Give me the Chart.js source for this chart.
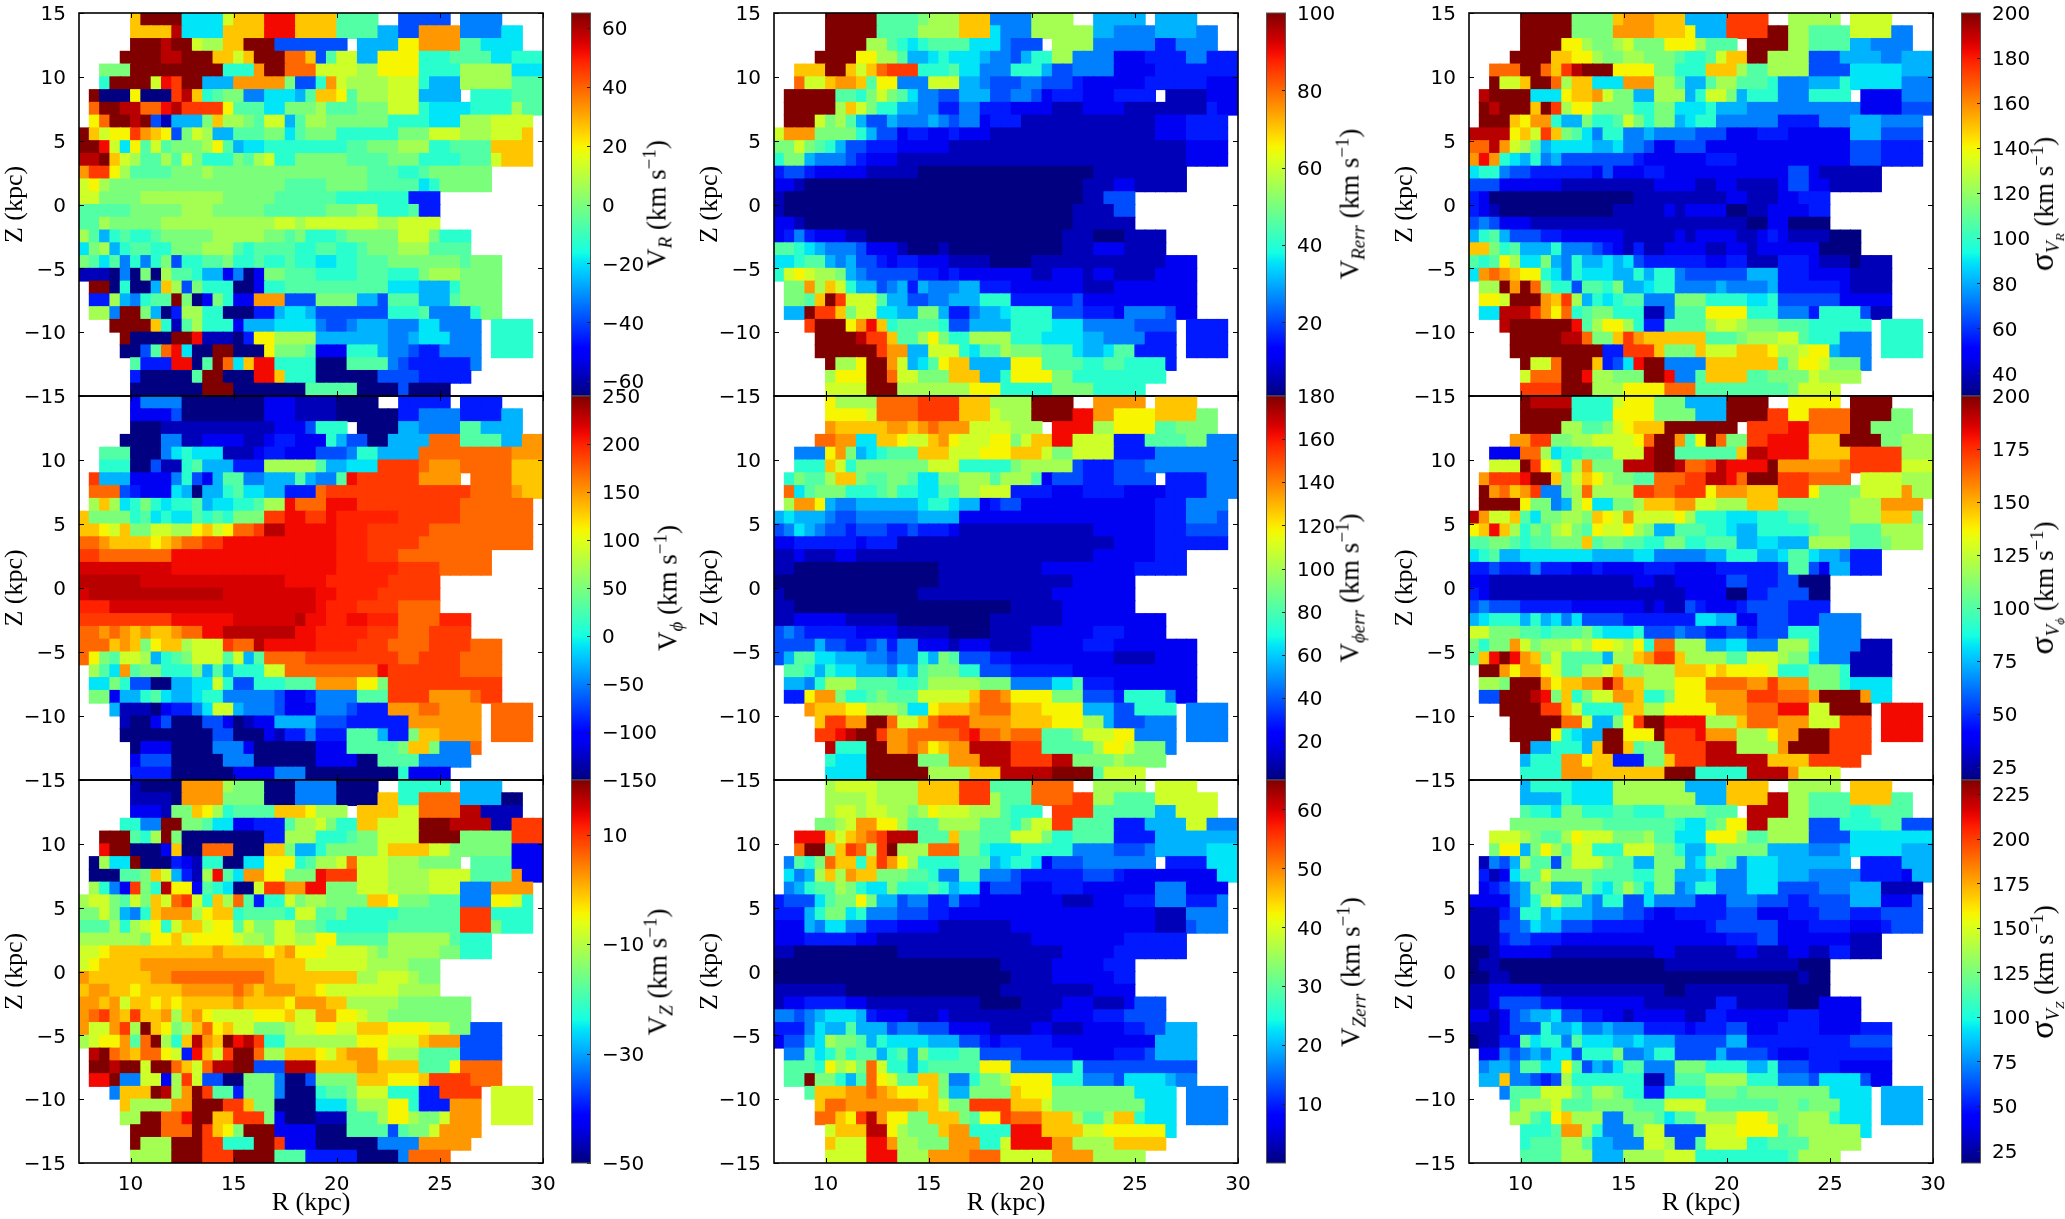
<!DOCTYPE html>
<html>
<head>
<meta charset="utf-8">
<title>Velocity maps</title>
<script src="https://cdn.jsdelivr.net/npm/chart.js@4"></script>
<style>
  html, body { margin: 0; padding: 0; background: #fff; }
  #page { position: relative; width: 2065px; height: 1219px; overflow: hidden; }
  #page canvas { position: absolute; }
  .cbTitle { position: absolute; transform: translate(-50%, -50%) rotate(-90deg); white-space: nowrap;
    font-family: "Liberation Serif", serif; font-size: 27px; color: #000; }
  .cbTitle sub { font-size: 70%; font-style: italic; line-height: 0; }
  .cbTitle sup { font-size: 70%; line-height: 0; }
  .cbTitle .sig { font-size: 34px; }
</style>
</head>
<body>
<div id="page"></div>
<script>
// one string per row from Z=15 down to Z=-15, columns are 0.5 kpc wide from R=7.5
// letters a..u are colour bar levels (a = bottom, u = top), R and S are the half steps r-s and s-t,
// "." is an empty bin, a number repeats the next letter
const vrRows = [
  "5.o4u4hm3o3s4o4j2.5e.4f",
  "5.4ot4h4o3s4o4j2g2e4p4f2h",
  "5.3ut2um2l2o3u7e.4g2n4p2j4h",
  "4.4u2t3u2omo3u2qoej2m2g4n3i4j2h3i",
  "2.3k9u3ip2u3q4m2l4n4i5l3h",
  "2.i4umsr2u3g5pk2eipm4l3mi3g5l3j",
  ".u3an3artoij2k2f3hgj2onj3l3m4g.4i3j",
  ".q2u2t2qst4rn3j2h3kl3j3k3mi4h4il2j",
  ".nq2utueb3gko2lkj2mgj2l6k4i3h3l4m",
  "uom2nrponekml2g3j2khj3k6i3k3m3l3mo",
  "2usmhnjmj3klnjg2h2i6i2j3k3l2i4j4o",
  "2tuoml2jljmk3ikjlm2i5k4j3k4i3jm3o",
  "p2rnl4j3kl4k2k5k4k3j2ij3k3k",
  "mnl6k11k4j4k5jhi5k",
  "2m4k8l5k6j7i3d",
  "5j5k3l5k6j3k2l3ij2d",
  "2jl5k5l6l2ml7m2l4m",
  "ljgij2ij5k5l2kjk3ij4kk3mk3i",
  "hklgi2j2i3k3lji4j2i2j2ij3k3l4j",
  "kjhjfifike2i2jk2ij2ij2i2h2i3j7kj3k",
  "3bafakal2ji2gcfac2k3j4i3j3ik3l4k",
  ".2uai2agolek3i2ac2i3j7j3h3gi4k",
  ".2dlgfi2jukacki2c3p3e4k2ge3j3gj4k",
  ".2lf2ukgad2l2i3a2dg2hg7e3ij4fi2k",
  "3.4uoibjl3ic3g4hf2ef3g3f2h4f.4i",
  "4.u4a2us3bad2n4l3gg3g2fg3h3f.4i",
  "4.2aejqsh2a2u3an3kj3c3ig2fe2d4f.4i",
  "5.j3d2sajuqho2s4i3a4jfe3d3df",
  "5.d5aj2u3a2so3i6a4e5d",
  "5.7a3u7a5j4ae4a"
];
const vphiRows = [
  "5.c4f8a3c4b4a2.5d.4d",
  "5.4ce8a3c4b6a2d4f4d2g",
  "5.3a3b8b3ce3i.4a2g4f2j4g",
  "4.4a2f2b2c2c2bc2d3cig2e2a4g3q4j2g3p",
  "2.3j3afhi3h3bc2d3c3ef2i4g4q5q3p",
  "2.3i2ae2bij3g3d5lj2g3h4rq3p5q3o",
  ".r3g4cfiecg2j2f3gjg2fjs3r3r4p.4q3o",
  ".3qedc2chgaggij2h2g3dq6r4r4r4qp2o",
  ".lolhikih2ijg2h2ij2lsq2q3s3r7r7q",
  "o4kijhi2hjiji3k2r2s2rs6R3r3r7q",
  "2onmo2kmm2lnomn2qr2ts4s3R3r3r3q7q",
  "2qp4onop2q2r4s7s3R5r4q7q",
  "2r2q5q5s4s7s3R3r3q6q",
  "9S9s7s6R4r5q",
  "6t5S9S4s6R5r",
  "S9t4t6S3S2s4R6r",
  "3R7S8S5Ss3R4r4q",
  "6r2rr6s6St2s2R2s3R4q3R",
  "2qpqpop2op2qss3tt3t2s5R3r3q4r",
  "q2qopokn2ol3mr2qt3s2s4R3r3qq3rr3q",
  "qnkj2mlgijkm2mjmgj4qr4r3rr2q4r4q",
  ".ljhpj2k2iikgjg2ii2m3q2q4qs3r4r4q",
  ".2hki2e2a2g2hmi2e3i3j4p2nk3r3r5r",
  ".2kc2gijh2gh2i5fe2cd4f3j3rr4pq2r",
  "3.g3bac2dfh2mg3fe3cf2fe3d3p2q4p.4q",
  "4.b2ace3a2ecab2c4g3e4d2dp6p.4q",
  "4.9a2e3acb2df3d3jg2dk2o4p.4q",
  "5.a3c4a3fc6a3c5jk2ok3fq",
  "5.c3e5a3f6a4c2a4j5f",
  "5.4d6a4c3f9ai4c"
];
const vzRows = [
  "5.b4a4pl3k3a4f4a2.5i.4g",
  "5.4ba4p4k3a4f4a2o2i4q4g2a",
  "5.3cb2konlij3j3on3l.4o2m4q2t4b",
  "4.2i2f2u2kj2h2c3dj2lmk2i2o4m3u4t2b3r",
  "2.3ujiluk8a2d3l3ij2k4m4u5k3r",
  "2.s2u3aco2a3q3a2ok2gik4km3oo2m6k3c",
  ".al2hu3adcb2i2a2h3nij2lmq3m3l4k.4j3c",
  ".3a2jkomgdblsjh2p2n3ks3r3m4l4m4jp2c",
  ".lifcrkit2ncjih2am2r2p2s3k3m4l3m3f4p",
  "l2mkjmkomqrmiolqjd2imk2lk3k2on3k3j3f2nmi",
  "2kmkgfio3pln2oi4ji2m2jk2i3i6j3r4i",
  "3jlilmnim2om2njm2k2m2kj2i3ii7j3rk3i",
  "l5lk2nom4nm2lk2m2l2n3j2jl5lj3i",
  "2mn2o4o4op2o2onop3n4mlk5l2k3i",
  "mn4o6p7p3o3m3m4l3k",
  "po5o2p6q2qqp4o2o2o2l3ml2k",
  "o2p2ono3o5pqpo3p2on2m3m2m4l",
  "2popm2onono4op2o2onp2p2o2l3l4k3k",
  "pqrpor2oplopn2m2m3no2m2p2nm2l4k4k",
  "p2mprluonkloqno2m3kl2m2n2m3o4n2m2k3e",
  "lm2npjquliotpoustr2i3l4l3n3mo3p4e",
  ".tuqpoqqnmdsomr2uq2l3onmo3pn3l4j4e",
  ".2ut2um2uqomq2t2u3e3t3oo2po3o3jn4q",
  ".2su2f2mclrm2e2a3kf2ae4k3o3no4rq2q",
  "3.f3outlpur2jd3kf3ai2jk3m3i2d4r.4m",
  "4.o4l2p3u2ro2k4a3hj3l2ni3d3p.4m",
  "4.2l2u2qs2u2o3rkc3a3b3jl2nl2km3p.4m",
  "5.3u3quronk3u4c3a4jej2km4p",
  "5.u3l3u2r3i2ur3c6a4f5p",
  "5.4l3u3r4u3j5d4af4q"
];
const vrErrRows = [
  "5.5u4jk3l3o4f4l2.5g.4g",
  "5.5u4j4l3oh3f4l2l2g4f4g2f",
  "5.4u2ljihij3j3hf3e.4l2f4f2d4f",
  "4.4u2n2lj2ghih2hg2feg2i2l4f3c4d2f3d",
  "2.3o2uomoq3r3ij2h3f3ig2e4f4c5d3d",
  "2.q2mo2poj2n3f3m2gf2ee2f3ed3c3cd5d3c",
  ".5u2jikmkjh2f2e3g2e2fec3d3c4d.4b3c",
  ".5ulomk2i2g2f2d2f3dc3c3b4c3bb4bd2c",
  ".3umkljg2eg3fgfe2fcd2d6b4b3b3c4d",
  "m3p4kig2ec2d2cd3c4b6b6b3c4d",
  "2kmkjig2e3d3c2c3b5b12b3b4c",
  "i2kgf2fed3c4bb20b3bc3c",
  "d2ed4cc3b2b17a6b3b",
  "2cb6a21a3b2c2b3b",
  "ba23a5a2b3e",
  "b26a2a3bb2e",
  "2cb26a6b",
  "cdfdc2c2b11a8a3b3a4b",
  "2jihg3fe3cb3ab8a3a3b3c4b",
  "2hi2jgfg2edc2d2cc4b4a2b3b6b2b3c",
  "imnm2lkgfe4eddcd2cc4c2b3cb2c4b4c",
  ".2kplomi2gefgdg2ff2g3d2c5c3b8c",
  ".2kjour3mj2g2e2f3g3i6de6cc4c",
  ".2gu2rok2m2h2g2kg2df2gh4i3e3dc4fe2c",
  "3.r3unpsoi4ji2e4g3ii3h3f2f4e.4d",
  "4.4ut2ro2jlnk2i4l3ih3h2gf3f3d.4d",
  "4.6ur2p2g3mih2jl3k3jh2gh2jd3d.4d",
  "5.u2ln2upmghjn2o4g3n4j2i2ji3id",
  "5.l3n2uq2m3k3o2gi4n2k9i",
  "5.4m3u7l3n5i4k5i"
];
const vphiErrRows = [
  "5.n4l4qr3r3o4l4u2.5p.4o",
  "5.4nm4q4r3om3l4u2s2p4n4o2k",
  "5.p2o3o2popq3p3mm3l.4s2l4n2j4k",
  "4.2q2p2h2on2mopn2mm2nkm2o2s4m3d4j2k3f",
  "2.3fnpkghi3j3o3m3n3om2k4m4d5f3f",
  "2.3iomi7k3m5ik2l3le3de2ef5f3f",
  ".ik2jl2ok2j2kj2h2k3lj3ljc3e3d4e.4d3f",
  ".qhj3k3ijk2i2h2j2l3m4d3c3dd4c4df2f",
  ".l2png2f2g2g2gh2ih2gcd2e6c4c3c3d4f",
  "gh3gf2ef2f3f4g10c9c3d3fe",
  "efhgf2ede2e2ded2dc13b3c3c3d4e",
  "2c2d4dc2dd2b19b4c3dd3d",
  "2bc3b2c4b19b2c4c3d",
  "2b4a10a10b5c4c5d",
  "16a9b4b6c",
  "b13a9b4b2c6c",
  "2b10a11a5b7c",
  "bb3c2c2b3b9a7b6c4c",
  "efe3d2d4cb4b4a2b2b6c3d4c",
  "4eg2e2defd2f3cb3c4b5c3d5c3c",
  "eg2j2h3g2fe2figkj3e2d2c5cc2c4b4c",
  ".2jigi2h2ggfhgj3k2i3e2d4d4c3cc4c",
  ".2gfi3l4j2ij2l3l3k4f2hj3d3c5c",
  ".2dn2pk2ijkj2j5mo2qp4n3k3ed4if2c",
  "3.p3o2n2llk2hn3op3qo2o4n3g2e4i.4f",
  "4.o2r2p2uq2moqr2r4p3oo3n2lg3e3f.4f",
  "4.2rst2ur2p2q3qrs2qp3q3jk2mm2n4f.4f",
  "5.t3i2u2pqpno2p4t3r4jjl2nm3kf",
  "5.i3h5u3k3p3t4r2t4kl4k",
  "5.4h6u4l3o5t4uj4m"
];
const vzErrRows = [
  "5.l4m4lo3o3r4j4q2.5l.4m",
  "5.4lm4l4o3rl3j4q2r2l4j4m2m",
  "5.l2ml2m2lkln3m3lj3i.4r2j4j2g4m",
  "4.2klm2p2nl3j4lj2jik2m2r4j3d4g2m3f",
  "2.3somopqr3t3jo2k3j3mk2i4j4d5g3g",
  "2.q2ukorqlru3l3q2ki2hh5i4f3ef5g3h",
  ".fjikq2oiorpnl2i2i3jgh2ihc3e3f4f.4d3h",
  ".hfglolp2o3k2ji2f2j3fe3d3d3ed4c4cc2h",
  ".fgi2jlki2hk3ijig2hce2e3c3d4c3c3f4c",
  "d3ehjkknk2ge2f2df2d2c6c3b3c3d3f3df",
  "3dgi2khi3f3e2d14c6c3b4f",
  "3cgf2h2f3d4c7b10c4c3be3f",
  "3c4dd2c13b2b8cc3d3d",
  "2b10a8b4b4b5c4d3d",
  "2a20a5b5c3d",
  "23a4b5cc2d",
  "3b4b15a7b2b4c",
  "b2c4d2c3b8b4a4b3c3bc3e",
  "2fefg3hgdc2c2bbc4b3b3b3cc3d4e",
  "3dfhggj3ge2f3ec2cc2b2b2c3b4c2d2e3g",
  "c2eghl2kjgi4h3g2edc5d6c4c4g",
  ".2fjhiki2jgijgk3i2j4ed4dc3c3de4g",
  ".3jinlmkqm2igi2j3j3n4f2fi3e3e5e",
  ".2ju2kigjqnm2j2ok2fi2kl4n3i3fe4hg2f",
  "3.j3o2pqpo3nok2g4ko2nn3k3k2k4h.4f",
  "4.o2q2p5p2om2k4r3om3k2k4k3h.4f",
  "4.2qonrtp2n2k3okj2nr3q3ol2jl2oi3h.4f",
  "5.m3o2tnl3ko2p4i3s4o2m6nh",
  "5.o3m2sp2l3k3p2im4s2p4l5o",
  "5.4m3s3l4p3q5m4p5l"
];
const sigVrRows = [
  "5.5u4ko3p3o4g4r2.5l.4m",
  "5.5u4k4p3on3g4r2u2l4j4m2f",
  "5.4u2nl2klm3k3nl3j.4u2l4j2g4f",
  "4.4u2o2nl2k2l3kj2ijm2o2u4l3e4g2f3g",
  "2.3q2uqort3u4n2k3i3ol2j4l4e5h3g",
  "2.u2mo2uql2o3h3p2lj2gj2l3ji3fg2gi5h3f",
  ".t4u3hn2opm2k2g3lgi2mkg3i3f4i.4c3f",
  ".ut3uourl2n4k2i2k3hi3g3f3f5f4c3e",
  ".3uon2pi2gkiijmki2kgh2i6f4d3f3g4f",
  "4tnomrokjhf2i2fg4f3e3c3d6c3g4e",
  "2qtpmljg3hh2gh2fe2c3e5c9c3e4d",
  "pspihgifg2e2e3ed2c4cd2d11c3e4d",
  "h2if2e6dce3c2d4c4c4c2ec6b",
  "3e6c4b5b4c2b2c4bc2e2c5b",
  "dc14a9b2c3b2c3d",
  "dcb11a5bcb2c2c2a2b3cc2d",
  "efe3cb3b6b2b3b2b4b2a2c4a",
  "gijg3e2d3c3c3b2bcb4c2bcdcb3b3a",
  "2okijg2gi3fedcbd2b4c2b2cb2cc3c4a",
  "jijnl2hkgfi2ghghed5d2c2d3b3dc3ba3b",
  "hpqponnihfih2h2gig2if2e2e2e3gd2d4c4b",
  ".2lupuqk2ie2jik2gh2i3ffg4fg6dc4b",
  ".2nm3uporlgihi2j3f3k4i2hi3e3ec4c",
  ".2h3trpnqij2k3i2bf3j4n3i3fd4ie2b",
  "3.t6usjl2nli2d4jl2ml3k3j2i4i.4i",
  "4.5u2tq2korp2o4o3jk3l2mj3i3f.4i",
  "4.9u2d3ro3ko3m3on2lm2ng3f.4i",
  "5.u2mq3uodehs2u4f7ojl2nm3kf",
  "5.m3q2us2l3k2us2fj4o2j4km4l",
  "5.4r3u3l4n3q9jk4m"
];
const sigVphiRows = [
  "5.u4t4im3n3k4g4u2.5n.4u",
  "5.5u4i4n4k3g4u2r2n4q4u2k",
  "5.4u2l2jkmn3o7u.4r2s4q2u4k",
  "4.2p2r2k2lm2mmnq2upjnuq2k2r4s3o4u2k3l",
  "2.3c2qlh2i3j3mt2u3j3jo2t4s4o5r3l",
  "2.3murnmilp3k3t2ut2qrt4su3p3pq5r3m",
  ".p3rs2uokmonl2k2j3qrr2tsq3u3r4q.4m3l",
  ".upqopr2fklq4l2r2q3rn3p3o3rn4k4mp2l",
  ".4un2kfgln2h2klo2o2p2m3l3o7k3l4p",
  "tp2mojh2k2lkonmp4mnl3i3h3i2j4k3l3ok",
  "nosolikjlmkjn2mnlk2g3j2ih2g5ij3k3j4l",
  "2j2kji2j2kkoj2k2j2i2k2i3j2g2h3g4l3jk3l",
  "hij2g4h2hhg3g2h5f2g3i2gh2jh2gf3d",
  "2de3df3d2cdc3c3d2c2c3d3de2jec2g3d",
  "2c10b4b2c2b3c2c2e3d2e3a",
  "dc6b6b7b4c2a2d3ee2a",
  "ef2ee5d7cbc2bedc2cd4e4d",
  "ghi2igighfh4ed6d2h2g2c3e3d4f",
  "2mk2kjji3jkih2hi3ef2e2d2ed3e3i4f",
  "ki2kpmk2llml2nmlni2q3l2g2h3f3li3ff3b",
  "josuspokmj3jg2lop2ro4l2j3ml2kh3f4b",
  ".2upn2pnm2j2lmo2k3l3ono4nm3i3ki4b",
  ".2lk3upn2o2ptq2o3l3n4q2pr3p3ki4h",
  ".2e3utskoik2m2po2ik3n4p3r3qp4up2h",
  "3.4u2rom4i2o2l5n2pp3q3s2m4u.4s",
  "4.5u2qm2gknr2u4s3lo3q3p3m3r.4s",
  "4.4unih2g2u3nu3rs3p3ln2p3u4r.4s",
  "5.u2g3igo2uoj2k4r3t4lp4u4r",
  "5.g3i2pn2o3d2ko3r6t4o5r",
  "5.4i3p7o3u5i4tp4m"
];
const sigVzRows = [
  "5.g4i4hl3l3l4g4o2.5l.4o",
  "5.4gi4h4l4l3g4o2t2l4j4o2j",
  "5.j2ih2ki2i2j3i3kk3j.4t2l4j2i4j",
  "4.4k5k3j4ji2hjk2n2t4l3e4i2j3e",
  "2.3mlk2jln3m3kl2j3h3nl2j4l4e5h3h",
  "2.k2ngknlj2m3i3m2ki2gi5kg3g3fg5h3g",
  ".bfegl2jek3mk2j2g3kgh2kjf3h3g4g.4d3g",
  ".dbch2jm2k2k4j2i2k3gh3f3h3g5f4dc2g",
  ".cdefg2k3gkihjljh2kfg2i3f3he3e3f3g4b",
  "4cfgilm2jgf2i2eh4f3d3f3e2de3e3g3ce",
  "3bde2igh3g3f2ed2c3d2d3e3c3d3e3d4e",
  "3b2efh2g3e4dd6cd6e3c4d3cd3e",
  "3bd2e3d4cc4c7c3d2e3c3cc3b",
  "2ab5c5b5b2c6b2c3b2c2b2d3b",
  "a2ba15a4b9b3a",
  "2a2b19a6a3ab2a",
  "2bc4c5b7b2a10b4a",
  "2bc4e2d3c5c5b2b2d5b3a4c",
  "2cbcef2gh2e2d2cbc4c2b2d2cc3c3d4c",
  "3bc3ei2gh2fg2ffd2ddc2dd2e3c4d4c3d",
  "a2b2djh2ifjh2h2ghg2ge2e2e2g3d3d4d4e",
  ".2cfefgf2hei2ik2fg2i4eg4ed3c4d4d",
  ".f2gf2j2hnjegfh2j3f3k3ii2gi3e3dc4c",
  ".2go2fedel2i4ii2bf2jj4l3i3fe4he2c",
  "3.f3j2mmkj2lk2i2d4ik2kj3k3k2k4h.4g",
  "4.j2llm3j4k3j4m7j2kj3k3h.4g",
  "4.2ljino3l2f2kkjh2jl3l3nl2k2lli3h.4g",
  "5.i2ij2pli3fk2m4e3m4njk6lh",
  "5.i3j2lj2g3f2ml2ej4m2i4j5l",
  "5.4j3l3g4l3m9ij4l"
];

// colour bar limits and ticks
const vrRange = [-65, 65];
const vrTicks = [-60, -40, -20, 0, 20, 40, 60];
const vphiRange = [-150, 250];
const vphiTicks = [-150, -100, -50, 0, 50, 100, 150, 200, 250];
const vzRange = [-50, 20];
const vzTicks = [-50, -30, -10, 10];
const vrErrRange = [1, 100];
const vrErrTicks = [20, 40, 60, 80, 100];
const vphiErrRange = [2, 180];
const vphiErrTicks = [20, 40, 60, 80, 100, 120, 140, 160, 180];
const vzErrRange = [0, 65];
const vzErrTicks = [10, 20, 30, 40, 50, 60];
const sigVrRange = [30, 200];
const sigVrTicks = [40, 60, 80, 100, 120, 140, 160, 180, 200];
const sigVphiRange = [19, 200];
const sigVphiTicks = [25, 50, 75, 100, 125, 150, 175, 200];
const sigVzRange = [18, 233];
const sigVzTicks = [25, 50, 75, 100, 125, 150, 175, 200, 225];

const rTicks = [10, 15, 20, 25, 30];
const zTicks = [-15, -10, -5, 0, 5, 10, 15];

const colLeft = [79, 774, 1469];
const rowTop = [13, 396, 780];
const rowBottom = [396, 780, 1163];
const panelWidth = 464;
const margin = 20;

const tickFont = { family: '"DejaVu Sans"', size: 20 };
const minus = v => String(v).replace('-', '\u2212');

// matplotlib jet
const jetR = [[0, 0], [0.35, 0], [0.66, 1], [0.89, 1], [1, 0.5]];
const jetG = [[0, 0], [0.125, 0], [0.375, 1], [0.64, 1], [0.91, 0], [1, 0]];
const jetB = [[0, 0.5], [0.11, 1], [0.34, 1], [0.65, 0], [1, 0]];
function lookup(tab, t) {
  for (let i = 1; i < tab.length; i++) {
    if (t <= tab[i][0]) {
      const f = (t - tab[i - 1][0]) / (tab[i][0] - tab[i - 1][0]);
      return tab[i - 1][1] + f * (tab[i][1] - tab[i - 1][1]);
    }
  }
  return tab[tab.length - 1][1];
}
function jet(t) {
  t = Math.min(1, Math.max(0, t));
  return `rgb(${Math.round(255 * lookup(jetR, t))},${Math.round(255 * lookup(jetG, t))},${Math.round(255 * lookup(jetB, t))})`;
}

function levelOf(ch) {
  if (ch === 'R') return 17.5;
  if (ch === 'S') return 18.5;
  return ch.charCodeAt(0) - 97;
}

// turn the row strings into floating bars {x: bin centre, y: [z low, z high]}
function buildCells(rows, range) {
  const data = [], colors = [];
  rows.forEach((row, r) => {
    let c = 0;
    for (const m of row.matchAll(/(\d*)([a-uRS.])/g)) {
      const n = m[1] ? parseInt(m[1]) : 1;
      if (m[2] !== '.') {
        const value = range[0] + levelOf(m[2]) / 20 * (range[1] - range[0]);
        for (let k = 0; k < n; k++) {
          data.push({ x: 7.75 + (c + k) * 0.5, y: [14 - r, 15 - r], v: value });
          colors.push(jet((value - range[0]) / (range[1] - range[0])));
        }
      }
      c += n;
    }
  });
  return { data, colors };
}

// y tick labels sit a little lower than canvas "middle" puts them
const nudgeLabels = {
  id: 'nudgeLabels',
  beforeDraw(chart) {
    chart.scales.y.getLabelItems().forEach(item => {
      if (!item.nudged) {
        item.options.translation[1] += 2;
        item.nudged = true;
      }
    });
  }
};

const frameTicks = {
  id: 'frameTicks',
  afterDatasetsDraw(chart) {
    const { ctx, chartArea: a, scales } = chart;
    ctx.save();
    ctx.strokeStyle = '#000';
    ctx.lineWidth = 1;
    ctx.beginPath();
    rTicks.forEach(v => {
      const x = Math.round(scales.x.getPixelForValue(v)) + 0.5;
      ctx.moveTo(x, a.bottom); ctx.lineTo(x, a.bottom - 5);
      ctx.moveTo(x, a.top); ctx.lineTo(x, a.top + 5);
    });
    zTicks.forEach(v => {
      const y = Math.round(scales.y.getPixelForValue(v)) + 0.5;
      ctx.moveTo(a.left, y); ctx.lineTo(a.left + 5, y);
      ctx.moveTo(a.right, y); ctx.lineTo(a.right - 5, y);
    });
    ctx.stroke();
    ctx.lineWidth = 1.6;
    ctx.strokeRect(a.left, a.top, a.right - a.left, a.bottom - a.top);
    ctx.restore();
  }
};

function addCanvas(left, top, width, height) {
  const cv = document.createElement('canvas');
  cv.width = width;
  cv.height = height;
  cv.style.left = left + 'px';
  cv.style.top = top + 'px';
  cv.style.width = width + 'px';
  cv.style.height = height + 'px';
  document.getElementById('page').appendChild(cv);
  return cv;
}

function drawPanel(rows, range, col, row) {
  const axisWidth = 79;
  const xHeight = row === 2 ? 56 : margin;
  const h = rowBottom[row] - rowTop[row];
  const cv = addCanvas(colLeft[col] - axisWidth, rowTop[row] - margin, axisWidth + panelWidth + margin, margin + h + xHeight);
  const cells = buildCells(rows, range);
  new Chart(cv, {
    type: 'bar',
    data: {
      datasets: [{
        data: cells.data,
        backgroundColor: cells.colors,
        borderWidth: 0,
        barPercentage: 1,
        categoryPercentage: 1,
        inflateAmount: 0.5
      }]
    },
    plugins: [frameTicks, nudgeLabels],
    options: {
      responsive: false,
      animation: false,
      layout: { padding: { top: margin, right: margin } },
      plugins: { legend: { display: false }, tooltip: { enabled: false } },
      scales: {
        x: {
          type: 'linear',
          offset: false,
          min: 7.5,
          max: 30,
          grid: { display: false },
          border: { display: false },
          afterBuildTicks: s => { s.ticks = rTicks.map(v => ({ value: v })); },
          afterFit: s => { s.height = xHeight; },
          ticks: { display: row === 2, color: '#000', font: tickFont, padding: 2, maxRotation: 0, autoSkip: false },
          title: {
            display: row === 2,
            text: 'R (kpc)',
            color: '#000',
            padding: 0,
            font: { family: '"Liberation Serif"', size: 26 }
          }
        },
        y: {
          type: 'linear',
          min: -15,
          max: 15,
          grid: { display: false },
          border: { display: false },
          afterBuildTicks: s => { s.ticks = zTicks.map(v => ({ value: v })); },
          afterFit: s => { s.width = axisWidth; },
          ticks: {
            color: '#000',
            font: tickFont,
            padding: 5,
            autoSkip: false,
            callback: v => (v === 15 && row > 0) ? '' : minus(v)
          },
          title: {
            display: true,
            text: 'Z (kpc)',
            color: '#000',
            padding: 0,
            font: { family: '"Liberation Serif"', size: 26 }
          }
        }
      }
    }
  });
}

const barFrame = {
  id: 'barFrame',
  afterDatasetsDraw(chart) {
    const { ctx, chartArea: a, scales } = chart;
    ctx.save();
    ctx.strokeStyle = '#222';
    ctx.lineWidth = 1;
    ctx.beginPath();
    scales.y.ticks.forEach(t => {
      const y = Math.round(scales.y.getPixelForValue(t.value)) + 0.5;
      ctx.moveTo(a.right, y); ctx.lineTo(a.right - 4, y);
    });
    ctx.stroke();
    ctx.strokeStyle = '#555';
    ctx.strokeRect(a.left + 0.5, a.top, a.right - a.left - 1, a.bottom - a.top);
    ctx.restore();
  }
};

function drawColorbar(range, ticks, col, row) {
  const barLeft = colLeft[col] + panelWidth + 28;
  const barWidth = 20;
  const axisWidth = 70;
  const h = rowBottom[row] - rowTop[row];
  const cv = addCanvas(barLeft, rowTop[row] - margin, barWidth + axisWidth, h + 2 * margin);
  new Chart(cv, {
    type: 'bar',
    data: {
      labels: [''],
      datasets: [{
        data: [range],
        borderWidth: 0,
        barPercentage: 1,
        categoryPercentage: 1,
        backgroundColor: c => {
          const a = c.chart.chartArea;
          if (!a) return '#fff';
          const g = c.chart.ctx.createLinearGradient(0, a.bottom, 0, a.top);
          for (let i = 0; i <= 40; i++) g.addColorStop(i / 40, jet(i / 40));
          return g;
        }
      }]
    },
    plugins: [barFrame, nudgeLabels],
    options: {
      responsive: false,
      animation: false,
      layout: { padding: { top: margin, bottom: margin } },
      plugins: { legend: { display: false }, tooltip: { enabled: false } },
      scales: {
        x: { display: false },
        y: {
          position: 'right',
          min: range[0],
          max: range[1],
          grid: { display: false },
          border: { display: false },
          afterBuildTicks: s => { s.ticks = ticks.map(v => ({ value: v })); },
          afterFit: s => { s.width = axisWidth; },
          ticks: { color: '#000', font: tickFont, padding: 3, autoSkip: false, callback: v => minus(v) }
        }
      }
    }
  });
}

function addTitle(html, x, y) {
  const el = document.createElement('div');
  el.className = 'cbTitle';
  el.style.left = x + 'px';
  el.style.top = y + 'px';
  el.innerHTML = html;
  document.getElementById('page').appendChild(el);
}

const unit = ' (km s<sup>\u22121</sup>)';
const sig = s => `<span class="sig">\u03c3</span><sub>V<sub>${s}</sub></sub>`;

const panels = [
  [vrRows, vrRange, vrTicks, 0, 0, 'V<sub>R</sub>' + unit, 657, 204],
  [vphiRows, vphiRange, vphiTicks, 0, 1, 'V<sub>\u03d5</sub>' + unit, 668, 588],
  [vzRows, vzRange, vzTicks, 0, 2, 'V<sub>Z</sub>' + unit, 658, 972],
  [vrErrRows, vrErrRange, vrErrTicks, 1, 0, 'V<sub>Rerr</sub>' + unit, 1350, 204],
  [vphiErrRows, vphiErrRange, vphiErrTicks, 1, 1, 'V<sub>\u03d5err</sub>' + unit, 1350, 588],
  [vzErrRows, vzErrRange, vzErrTicks, 1, 2, 'V<sub>Zerr</sub>' + unit, 1351, 972],
  [sigVrRows, sigVrRange, sigVrTicks, 2, 0, sig('R') + unit, 2042, 204],
  [sigVphiRows, sigVphiRange, sigVphiTicks, 2, 1, sig('\u03d5') + unit, 2042, 588],
  [sigVzRows, sigVzRange, sigVzTicks, 2, 2, sig('Z') + unit, 2042, 972]
];

panels.forEach(p => {
  drawPanel(p[0], p[1], p[3], p[4]);
  drawColorbar(p[1], p[2], p[3], p[4]);
  addTitle(p[5], p[6], p[7]);
});
</script>
</body>
</html>
